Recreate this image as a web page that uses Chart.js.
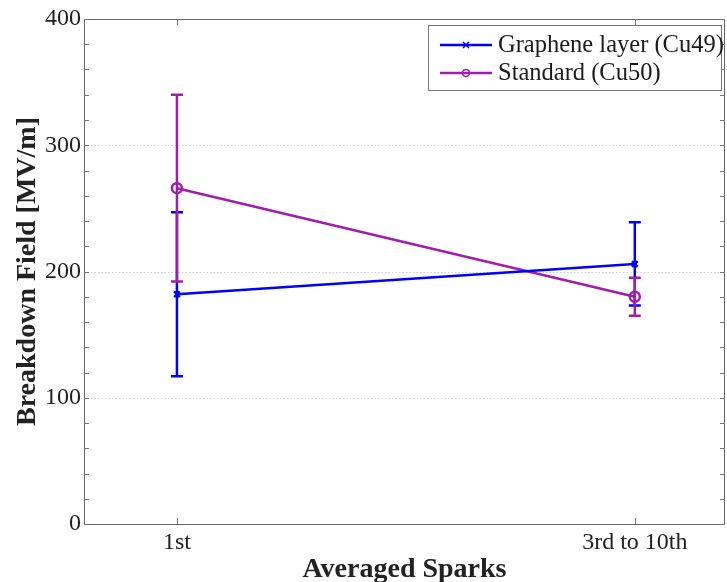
<!DOCTYPE html>
<html><head><meta charset="utf-8">
<script src="https://cdn.jsdelivr.net/npm/chart.js@4/dist/chart.umd.min.js"></script>
<style>html,body{margin:0;padding:0;background:#fff}#wrap{width:727px;height:582px}</style>
</head><body><div id="wrap"><canvas id="c" width="727" height="582"></canvas></div>
<script>
const categories = ['1st', '3rd to 10th'];
const seriesNames = ['Graphene layer (Cu49)', 'Standard (Cu50)'];
const grapheneMean = [182, 206];
const grapheneErr = [65, 33];
const standardMean = [266, 180];
const standardErr = [74, 15];
const yTickValues = [0, 100, 200, 300, 400];

const BLUE = '#0000ff';
const PURPLE = '#a01eac';
const FONT = "'Liberation Serif', 'DejaVu Serif', serif";

function toPoints(means) { return categories.map((c, i) => ({ x: i + 1, y: means[i] })); }

const errors = [grapheneErr, standardErr];

const framePlugin = {
  id: 'frame',
  beforeDatasetsDraw(chart) {
    const { ctx, chartArea: a, scales } = chart;
    ctx.save();
    ctx.strokeStyle = '#cfcfcf';
    ctx.lineWidth = 1;
    ctx.setLineDash([1.5, 2]);
    yTickValues.slice(1, -1).forEach(v => {
      const y = Math.round(scales.y.getPixelForValue(v)) + 0.5;
      ctx.beginPath(); ctx.moveTo(a.left, y); ctx.lineTo(a.right, y); ctx.stroke();
    });
    ctx.restore();
  },
  afterDatasetsDraw(chart) {
    const { ctx, chartArea: a, scales } = chart;
    ctx.save();
    chart.data.datasets.forEach((ds, di) => {
      const meta = chart.getDatasetMeta(di);
      ctx.strokeStyle = ds.borderColor;
      ctx.lineWidth = 2.5;
      meta.data.forEach((pt, i) => {
        const m = ds.data[i].y, e = errors[di][i];
        const x = pt.x;
        const yt = scales.y.getPixelForValue(m + e);
        const yb = scales.y.getPixelForValue(m - e);
        ctx.beginPath();
        ctx.moveTo(x, yt); ctx.lineTo(x, yb);
        ctx.moveTo(x - 6, yt); ctx.lineTo(x + 6, yt);
        ctx.moveTo(x - 6, yb); ctx.lineTo(x + 6, yb);
        ctx.stroke();
      });
    });
    ctx.strokeStyle = '#666';
    ctx.lineWidth = 1;
    ctx.strokeRect(Math.round(a.left) + 0.5, Math.round(a.top) + 0.5, Math.round(a.right - a.left) - 1, Math.round(a.bottom - a.top));
    ctx.strokeStyle = '#777';
    for (let v = 0; v <= 400; v += 20) {
      const y = Math.round(scales.y.getPixelForValue(v)) + 0.5;
      ctx.beginPath();
      ctx.moveTo(a.left, y); ctx.lineTo(a.left + 5, y);
      ctx.moveTo(a.right, y); ctx.lineTo(a.right - 5, y);
      ctx.stroke();
    }
    [1, 2].forEach(v => {
      const x = Math.round(scales.x.getPixelForValue(v)) + 0.5;
      ctx.beginPath();
      ctx.moveTo(x, a.bottom); ctx.lineTo(x, a.bottom - 6);
      ctx.moveTo(x, a.top); ctx.lineTo(x, a.top + 6);
      ctx.stroke();
    });
    // legend
    const lx = 428.5, ly = 25.5, lw = 293, lh = 65;
    ctx.fillStyle = '#fff';
    ctx.fillRect(lx, ly, lw, lh);
    ctx.strokeStyle = '#777';
    ctx.strokeRect(lx, ly, lw, lh);
    chart.data.datasets.forEach((ds, di) => {
      const yy = 45 + di * 28;
      ctx.strokeStyle = ds.borderColor;
      ctx.lineWidth = 2.5;
      ctx.beginPath(); ctx.moveTo(440, yy); ctx.lineTo(492, yy); ctx.stroke();
      ctx.lineWidth = 1.5;
      if (di === 0) {
        ctx.beginPath();
        ctx.moveTo(463, yy - 3); ctx.lineTo(469, yy + 3);
        ctx.moveTo(469, yy - 3); ctx.lineTo(463, yy + 3);
        ctx.stroke();
      } else {
        ctx.beginPath(); ctx.arc(466, yy, 3.5, 0, Math.PI * 2); ctx.stroke();
      }
      ctx.fillStyle = '#1a1a1a';
      ctx.font = '24.5px ' + FONT;
      ctx.textBaseline = 'middle';
      ctx.textAlign = 'left';
      ctx.fillText(ds.label, 498, yy + 1);
    });
    ctx.restore();
  }
};

new Chart(document.getElementById('c'), {
  type: 'line',
  data: {
    datasets: [
      { label: seriesNames[0], data: toPoints(grapheneMean), borderColor: BLUE, backgroundColor: BLUE,
        borderWidth: 2.5, pointStyle: 'crossRot', pointRadius: 4, pointBorderWidth: 2.5, tension: 0 },
      { label: seriesNames[1], data: toPoints(standardMean), borderColor: PURPLE, backgroundColor: 'rgba(0,0,0,0)',
        borderWidth: 2.5, pointStyle: 'circle', pointRadius: 5, pointBorderWidth: 2.5, tension: 0 }
    ]
  },
  options: {
    responsive: false,
    devicePixelRatio: 1,
    animation: false,
    layout: { autoPadding: false, padding: { top: 19, right: 2, left: 0, bottom: 0 } },
    plugins: { legend: { display: false }, tooltip: { enabled: false } },
    scales: {
      x: {
        type: 'linear', min: 0.797, max: 2.197,
        afterBuildTicks: (axis) => { axis.ticks = [{ value: 1 }, { value: 2 }]; },
        afterFit: (s) => { s.height = 58; s.paddingLeft = 0; s.paddingRight = 0; },
        grid: { display: false, drawTicks: false },
        border: { display: false },
        ticks: { padding: 4, color: '#222', font: { family: FONT, size: 24 },
          callback: (v) => categories[Math.round(v) - 1] ?? '' },
        title: { display: true, text: 'Averaged Sparks', color: '#222', padding: { top: 0, bottom: -5 },
          font: { family: FONT, size: 28, weight: 'bold' } }
      },
      y: {
        min: 0, max: 400,
        afterBuildTicks: (axis) => { axis.ticks = yTickValues.map(v => ({ value: v })); },
        afterFit: (s) => { s.width = 84; s.paddingTop = 0; s.paddingBottom = 0; },
        grid: { display: false, drawTicks: false },
        border: { display: false },
        ticks: { padding: 3, color: '#222', font: { family: FONT, size: 24 } },
        title: { display: true, text: 'Breakdown Field [MV/m]', color: '#222', padding: { top: 11, bottom: 0 },
          font: { family: FONT, size: 28, weight: 'bold' } }
      }
    }
  },
  plugins: [framePlugin]
});
</script>
</body></html>
